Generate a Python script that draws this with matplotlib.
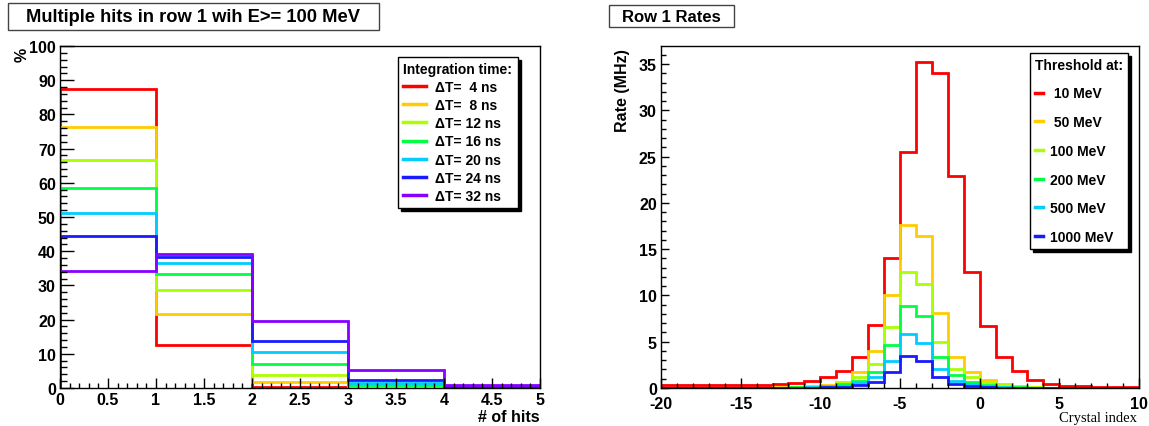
import numpy as np
import matplotlib.pyplot as plt
from matplotlib.patches import Rectangle
from matplotlib.ticker import MultipleLocator

plt.rcParams['font.family'] = ['Liberation Sans', 'DejaVu Sans']
plt.rcParams['axes.unicode_minus'] = False

# multiplicity of hits per integration window (percent of events)
hit_edges = [0, 1, 2, 3, 4, 5]
window_labels = ['\u0394T=  4 ns', '\u0394T=  8 ns', '\u0394T= 12 ns', '\u0394T= 16 ns',
                 '\u0394T= 20 ns', '\u0394T= 24 ns', '\u0394T= 32 ns']
hits_4ns = [87.4, 12.6, 0.2, 0.0, 0.0]
hits_8ns = [76.3, 21.7, 1.65, 0.2, 0.0]
hits_12ns = [66.8, 28.6, 3.9, 0.5, 0.05]
hits_16ns = [58.5, 33.4, 7.1, 0.8, 0.1]
hits_20ns = [51.1, 36.5, 10.5, 1.45, 0.2]
hits_24ns = [44.5, 38.4, 13.6, 2.4, 0.3]
hits_32ns = [34.3, 39.1, 19.6, 5.35, 0.8]
window_colors = ['#ff0000', '#ffcc00', '#aaff00', '#00ff44', '#00ccff', '#1a1aff', '#8800ff']

# rate per crystal for several energy thresholds (MHz)
crystal_edges = np.arange(-20, 11)
threshold_labels = [' 10 MeV', ' 50 MeV', '100 MeV', '200 MeV', '500 MeV', '1000 MeV']
rate_10 = [0.3, 0.3, 0.3, 0.3, 0.3, 0.3, 0.35, 0.45, 0.55, 0.8, 1.2, 1.85, 3.4, 6.8, 14.0,
           25.5, 35.2, 34.0, 22.9, 12.5, 6.7, 3.4, 1.8, 0.85, 0.45, 0.25, 0.2, 0.15, 0.12, 0.1]
rate_50 = [0.05, 0.05, 0.05, 0.05, 0.05, 0.05, 0.05, 0.08, 0.12, 0.2, 0.35, 0.7, 1.7, 4.0, 10.0,
           17.6, 16.4, 8.1, 3.4, 1.75, 0.9, 0.43, 0.2, 0.1, 0.05, 0.05, 0.05, 0.05, 0.05, 0.05]
rate_100 = [0.03, 0.03, 0.03, 0.03, 0.03, 0.03, 0.03, 0.05, 0.08, 0.12, 0.25, 0.55, 1.15, 2.6, 6.6,
            12.5, 11.2, 5.0, 2.1, 1.15, 0.6, 0.3, 0.15, 0.08, 0.03, 0.03, 0.03, 0.03, 0.03, 0.03]
rate_200 = [0.02, 0.02, 0.02, 0.02, 0.02, 0.02, 0.02, 0.04, 0.06, 0.1, 0.2, 0.43, 0.8, 1.76, 4.65,
            8.9, 7.75, 3.3, 1.4, 0.7, 0.33, 0.15, 0.08, 0.04, 0.02, 0.02, 0.02, 0.02, 0.02, 0.02]
rate_500 = [0.01, 0.01, 0.01, 0.01, 0.01, 0.01, 0.01, 0.02, 0.04, 0.07, 0.12, 0.25, 0.55, 1.15, 2.95,
            5.83, 4.86, 2.0, 0.8, 0.43, 0.25, 0.1, 0.05, 0.02, 0.01, 0.01, 0.01, 0.01, 0.01, 0.01]
rate_1000 = [0.01, 0.01, 0.01, 0.01, 0.01, 0.01, 0.01, 0.01, 0.02, 0.04, 0.07, 0.15, 0.3, 0.6, 1.76,
             3.5, 2.95, 1.15, 0.43, 0.18, 0.1, 0.05, 0.02, 0.01, 0.01, 0.01, 0.01, 0.01, 0.01, 0.01]
threshold_colors = ['#ff0000', '#ffcc00', '#aaff00', '#00ff44', '#00ccff', '#1a1aff']

W, H = 1149, 427
fig = plt.figure(figsize=(W / 100, H / 100), dpi=100)
ax1 = fig.add_axes([60 / W, 38 / H, 480 / W, 342 / H])
ax2 = fig.add_axes([661 / W, 38 / H, 478 / W, 342 / H])


def title_box(x0, y0, x1, y1, text, size):
    fig.add_artist(Rectangle((x0 / W, 1 - y1 / H), (x1 - x0) / W, (y1 - y0) / H,
                             transform=fig.transFigure, fc='white', ec='#444444', lw=1))
    fig.text((x0 + x1) / 2 / W, 1 - (y0 + y1) / 2 / H, text, ha='center', va='center',
             fontsize=size, fontweight='bold')


title_box(8, 4, 379, 31, 'Multiple hits in row 1 wih E>= 100 MeV', 13.2)
title_box(609, 6, 734, 28, 'Row 1 Rates', 12)

# left: hit multiplicity
hit_sets = [hits_4ns, hits_8ns, hits_12ns, hits_16ns, hits_20ns, hits_24ns, hits_32ns]
for vals, col, lab in zip(hit_sets, window_colors, window_labels):
    ax1.stairs(vals, hit_edges, baseline=0, color=col, lw=2, label=lab)
ax1.set_xlim(0, 5)
ax1.set_ylim(0, 100)
ax1.xaxis.set_major_locator(MultipleLocator(0.5))
ax1.xaxis.set_minor_locator(MultipleLocator(0.1))
ax1.yaxis.set_major_locator(MultipleLocator(10))
ax1.yaxis.set_minor_locator(MultipleLocator(2))
ax1.xaxis.set_major_formatter(lambda v, p: f'{v:g}')
ax1.tick_params(axis='y', which='major', length=10)
ax1.tick_params(axis='y', which='minor', length=5)
ax1.tick_params(axis='x', which='major', length=7, pad=3)
ax1.tick_params(axis='x', which='minor', length=3.5)
ax1.set_ylabel('%', loc='top', fontsize=11.5, fontweight='bold')
ax1.yaxis.set_label_coords(-0.0625, 0.997)
ax1.set_xlabel('# of hits', loc='right', fontsize=11.5, fontweight='bold')
ax1.xaxis.set_label_coords(1.0, -0.062)
leg1 = ax1.legend(loc='upper left', bbox_to_anchor=(0.704, 0.515, 0.25, 0.453), mode='expand',
                  borderaxespad=0, title='Integration time:', alignment='left',
                  prop={'size': 10, 'weight': 'bold'}, title_fontsize=10,
                  handlelength=1.7, handletextpad=0.6, labelspacing=0.3, borderpad=0.35,
                  fancybox=False, shadow={'color': 'black', 'alpha': 1})
leg1.get_title().set_fontweight('bold')

# right: rates per crystal
rate_sets = [rate_10, rate_50, rate_100, rate_200, rate_500, rate_1000]
for vals, col, lab in zip(rate_sets, threshold_colors, threshold_labels):
    ax2.stairs(vals, crystal_edges, baseline=0, color=col, lw=2, label=lab)
ax2.set_xlim(-20, 10)
ax2.set_ylim(0, 36.96)
ax2.xaxis.set_major_locator(MultipleLocator(5))
ax2.xaxis.set_minor_locator(MultipleLocator(1))
ax2.yaxis.set_major_locator(MultipleLocator(5))
ax2.yaxis.set_minor_locator(MultipleLocator(1))
ax2.tick_params(axis='y', which='major', length=6)
ax2.tick_params(axis='y', which='minor', length=3.5)
ax2.tick_params(axis='x', which='major', length=7, pad=5.5)
ax2.tick_params(axis='x', which='minor', length=3.5)
ax2.set_ylabel('Rate (MHz)', loc='top', fontsize=11.5, fontweight='bold')
ax2.yaxis.set_label_coords(-0.065, 0.994)
ax2.set_xlabel('Crystal index', loc='right', fontsize=10.5,
               family=['Liberation Serif', 'DejaVu Serif'])
ax2.xaxis.set_label_coords(0.996, -0.068)
leg2 = ax2.legend(loc='upper left', bbox_to_anchor=(0.772, 0.406, 0.205, 0.574), mode='expand',
                  borderaxespad=0, title='Threshold at:', alignment='left',
                  prop={'size': 10, 'weight': 'bold'}, title_fontsize=10,
                  handlelength=0.6, handletextpad=0.5, labelspacing=1.06, borderpad=0.35,
                  fancybox=False, shadow={'color': 'black', 'alpha': 1})
leg2.get_title().set_fontweight('bold')

for ax in (ax1, ax2):
    ax.tick_params(which='both', direction='in', top=False, right=False, width=1,
                   labelsize=11.5)
    ax.tick_params(axis='y', pad=3)
    for t in ax.get_xticklabels() + ax.get_yticklabels():
        t.set_fontweight('bold')
    for s in ax.spines.values():
        s.set_linewidth(1)
    ax.get_legend().get_frame().set_edgecolor('black')
    ax.get_legend().get_frame().set_linewidth(1)
    for h in ax.get_legend().get_lines():
        h.set_linewidth(2.5)

fig.savefig('out.png', dpi=100)
